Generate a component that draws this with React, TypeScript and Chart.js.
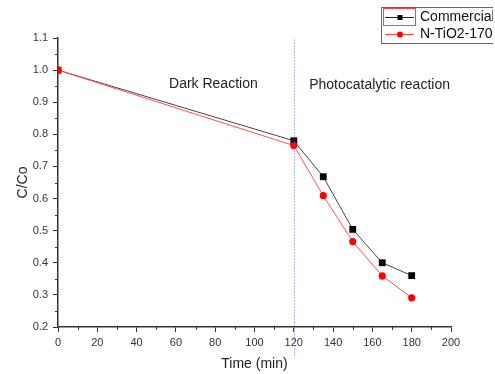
import React, { useEffect, useRef } from "react";
import { Chart, registerables } from "chart.js";

Chart.register(...registerables);

const times = [0, 120, 135, 150, 165, 180];
const commercial = [1.0, 0.78, 0.668, 0.504, 0.4, 0.36];
const nTiO2 = [1.0, 0.765, 0.609, 0.466, 0.359, 0.291];
const seriesNames = ["Commercial", "N-TiO2-170"];
const xMinorTicks = [10, 30, 50, 70, 90, 110, 130, 150, 170, 190];
const yMinorTicks = [0.25, 0.35, 0.45, 0.55, 0.65, 0.75, 0.85, 0.95, 1.05];
const darkLabel = "Dark Reaction";
const photoLabel = "Photocatalytic reaction";
const lightOnTime = 120;

const FONT = "'Liberation Sans', Arial, sans-serif";

const overlayPlugin = {
  id: "overlay",
  afterDraw(chart: any) {
    const ctx = chart.ctx;
    const xs = chart.scales.x;
    const ys = chart.scales.y;
    ctx.save();
    // minor ticks
    ctx.strokeStyle = "#333";
    ctx.lineWidth = 1;
    const yAxisPx = chart.chartArea.left;
    const xAxisPx = chart.chartArea.bottom;
    xMinorTicks.forEach((v) => {
      const px = Math.round(xs.getPixelForValue(v)) + 0.5;
      ctx.beginPath();
      ctx.moveTo(px, xAxisPx);
      ctx.lineTo(px, xAxisPx + 3);
      ctx.stroke();
    });
    yMinorTicks.forEach((v) => {
      const py = Math.round(ys.getPixelForValue(v)) + 0.5;
      ctx.beginPath();
      ctx.moveTo(yAxisPx, py);
      ctx.lineTo(yAxisPx - 3, py);
      ctx.stroke();
    });
    // vertical dotted line
    const lx = Math.round(xs.getPixelForValue(lightOnTime)) + 0.5;
    ctx.strokeStyle = "#6a6aff";
    ctx.setLineDash([1, 2]);
    ctx.beginPath();
    ctx.moveTo(lx, ys.getPixelForValue(1.095));
    ctx.lineTo(lx, xAxisPx + 31);
    ctx.stroke();
    ctx.setLineDash([]);
    // annotations
    ctx.fillStyle = "#222";
    ctx.font = `14px ${FONT}`;
    ctx.textBaseline = "middle";
    ctx.textAlign = "left";
    ctx.fillText(darkLabel, xs.getPixelForValue(56.5), ys.getPixelForValue(0.956));
    ctx.fillText(photoLabel, xs.getPixelForValue(127.8), ys.getPixelForValue(0.953));
    // legend (clipped at the right edge like the reference)
    ctx.beginPath();
    ctx.rect(0, 0, 493, 374);
    ctx.clip();
    ctx.strokeStyle = "#666";
    ctx.lineWidth = 1;
    ctx.strokeRect(381.5, 7.5, 130, 36);
    ctx.strokeStyle = "#ff4040";
    ctx.strokeRect(383.5, 8.5, 32, 17);
    // row 1
    ctx.strokeStyle = "#222";
    ctx.beginPath();
    ctx.moveTo(385, 17.5);
    ctx.lineTo(414, 17.5);
    ctx.stroke();
    ctx.fillStyle = "#000";
    ctx.fillRect(397.5, 15, 5, 5);
    // row 2
    ctx.strokeStyle = "#ff4040";
    ctx.beginPath();
    ctx.moveTo(385, 34.5);
    ctx.lineTo(414, 34.5);
    ctx.stroke();
    ctx.fillStyle = "#ff0000";
    ctx.beginPath();
    ctx.arc(400, 34.5, 3, 0, Math.PI * 2);
    ctx.fill();
    ctx.fillStyle = "#111";
    ctx.font = `14px ${FONT}`;
    ctx.fillText(seriesNames[0], 420, 17.5);
    ctx.fillText(seriesNames[1], 420, 34.5);
    ctx.restore();
  },
};

export default function App() {
  const ref = useRef<HTMLCanvasElement>(null);
  useEffect(() => {
    document.body.style.margin = "0";
    const chart = new Chart(ref.current!, {
      type: "line",
      data: {
        datasets: [
          {
            label: seriesNames[0],
            data: times.map((t, i) => ({ x: t, y: commercial[i] })),
            borderColor: "#444",
            borderWidth: 1,
            backgroundColor: "#000",
            pointBackgroundColor: "#000",
            pointBorderColor: "#000",
            pointStyle: "rect",
            pointRadius: 4.8,
            pointBorderWidth: 0,
            order: 1,
          },
          {
            label: seriesNames[1],
            data: times.map((t, i) => ({ x: t, y: nTiO2[i] })),
            borderColor: "#ff5050",
            borderWidth: 1,
            backgroundColor: "#ff0000",
            pointBackgroundColor: "#ff0000",
            pointBorderColor: "#ff0000",
            pointStyle: "circle",
            pointRadius: 3.6,
            pointBorderWidth: 0,
            order: 0,
          },
        ],
      },
      options: {
        animation: false,
        responsive: true,
        maintainAspectRatio: false,
        layout: { padding: { left: 0, top: 38, right: 44, bottom: 0 } },
        plugins: { legend: { display: false }, tooltip: { enabled: false } },
        scales: {
          x: {
            type: "linear",
            min: 0,
            max: 200,
            ticks: {
              stepSize: 20,
              color: "#333",
              font: { family: FONT, size: 11 },
              padding: 4,
              maxRotation: 0,
            },
            grid: { drawOnChartArea: false, drawTicks: true, tickLength: 5, color: "#333" },
            border: { color: "#333", width: 1.5 },
            title: {
              display: true,
              text: "Time (min)",
              color: "#222",
              font: { family: FONT, size: 14 },
              padding: { top: 0, bottom: 1 },
            },
            afterFit: (s: any) => {
              s.height = 47;
            },
          },
          y: {
            type: "linear",
            min: 0.2,
            max: 1.1,
            ticks: {
              stepSize: 0.1,
              color: "#333",
              font: { family: FONT, size: 11 },
              padding: 5,
              callback: (v: any) => Number(v).toFixed(1),
            },
            grid: { drawOnChartArea: false, drawTicks: true, tickLength: 5, color: "#333" },
            border: { color: "#333", width: 1.5 },
            title: {
              display: true,
              text: "C/Co",
              color: "#222",
              font: { family: FONT, size: 14 },
              padding: { top: 15, bottom: 0 },
            },
            afterFit: (s: any) => {
              s.width = 58;
            },
          },
        },
      },
      plugins: [overlayPlugin],
    });
    return () => chart.destroy();
  }, []);
  return (
    <div style={{ position: "absolute", left: 0, top: 0, width: 495, height: 374 }}>
      <canvas ref={ref} />
    </div>
  );
}
